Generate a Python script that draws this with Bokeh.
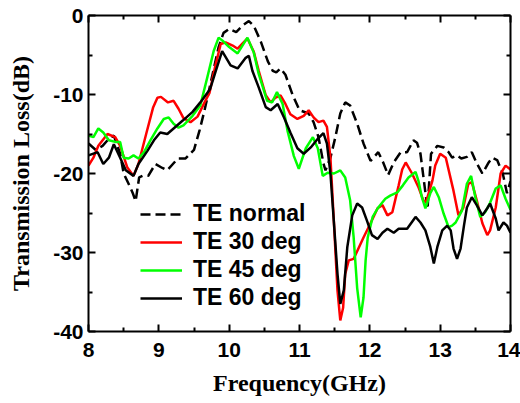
from bokeh.plotting import figure
from bokeh.models import (LinearAxis, Legend, LegendItem, FixedTicker,
                          CustomJSTickFormatter, Range1d)
from bokeh.embed import file_html
from bokeh.resources import INLINE

# ---------------- data ----------------
x_ticks = [8, 9, 10, 11, 12, 13, 14]
x_minor = [8.5, 9.5, 10.5, 11.5, 12.5, 13.5]
y_ticks = [-40, -30, -20, -10, 0]
y_minor = [-35, -25, -15, -5]

f_normal = [8.0, 8.1, 8.2, 8.3, 8.36, 8.45, 8.5, 8.57, 8.63, 8.67, 8.72, 8.77, 8.85, 8.95,
            9.05, 9.12, 9.2, 9.27, 9.38, 9.5, 9.58, 9.65, 9.75, 9.85, 9.92, 10.0, 10.1, 10.2,
            10.28, 10.35, 10.45, 10.55, 10.62, 10.67, 10.73, 10.8, 10.9, 11.0, 11.13, 11.2,
            11.27, 11.34, 11.37, 11.44, 11.51, 11.58, 11.65, 11.72, 11.82, 11.91, 12.01, 12.12,
            12.19, 12.26, 12.34, 12.44, 12.53, 12.62, 12.67, 12.72, 12.82, 12.87, 12.96, 13.05,
            13.12, 13.17, 13.24, 13.3, 13.38, 13.45, 13.52, 13.6, 13.69, 13.74, 13.81, 13.89,
            13.95, 14.0]
te_normal = [-16.2, -17.0, -16.5, -15.5, -15.2, -17.5, -20.0, -21.3, -22.5, -23.5, -20.5, -20.3,
             -20.3, -18.8, -19.3, -19.6, -18.8, -18.1, -18.1, -17.0, -14.5, -12.0, -8.0, -4.0,
             -2.2, -1.7, -2.1, -1.2, -0.7, -1.3, -3.3, -5.8, -7.0, -7.2, -6.7, -7.5, -10.0,
             -12.0, -12.4, -13.5, -15.4, -18.7, -19.6, -18.0, -15.4, -12.4, -11.0, -11.4, -13.7,
             -16.2, -18.4, -17.3, -18.6, -20.2, -18.6, -17.3, -17.3, -15.8, -16.1, -17.5, -24.5,
             -17.5, -16.5, -16.7, -17.3, -18.0, -17.7, -18.1, -17.9, -17.3, -18.7, -20.0, -18.6,
             -18.0, -18.3, -20.0, -22.5, -21.0]

f_30 = [8.0, 8.07, 8.14, 8.27, 8.38, 8.45, 8.55, 8.64, 8.71, 8.82, 8.92, 8.98, 9.03, 9.13,
        9.21, 9.28, 9.35, 9.45, 9.55, 9.65, 9.72, 9.8, 9.88, 9.95, 10.05, 10.12, 10.26, 10.35,
        10.42, 10.52, 10.59, 10.66, 10.73, 10.8, 10.87, 10.97, 11.06, 11.13, 11.2, 11.27,
        11.34, 11.39, 11.44, 11.49, 11.54, 11.58, 11.62, 11.65, 11.7, 11.77, 11.91, 12.01,
        12.11, 12.18, 12.25, 12.32, 12.41, 12.46, 12.51, 12.6, 12.69, 12.76, 12.8, 12.89,
        12.93, 13.0, 13.08, 13.19, 13.26, 13.33, 13.4, 13.45, 13.52, 13.6, 13.67, 13.71,
        13.79, 13.86, 13.93, 14.0]
te_30 = [-19.0, -18.0, -16.5, -15.0, -15.4, -16.5, -19.2, -20.3, -18.8, -15.0, -11.6, -10.4,
         -10.3, -11.0, -10.8, -11.8, -13.0, -13.5, -12.8, -11.0, -9.8, -6.5, -3.6, -3.4, -3.8,
         -4.2, -2.9, -4.6, -7.0, -10.1, -11.0, -10.4, -10.1, -11.2, -12.5, -13.1, -12.7,
         -12.0, -12.9, -13.5, -13.3, -14.1, -18.0, -26.3, -34.8, -38.6, -37.0, -32.7, -31.0,
         -30.8, -28.1, -26.3, -24.4, -24.0, -25.3, -24.9, -21.5, -19.5, -18.6, -20.0, -21.7,
         -23.4, -23.6, -20.9, -19.0, -17.5, -18.0, -22.2, -25.3, -24.3, -21.3, -21.1, -23.4,
         -26.3, -27.8, -27.2, -24.3, -20.0, -19.0, -19.5]

f_45 = [8.0, 8.07, 8.14, 8.21, 8.29, 8.38, 8.45, 8.5, 8.57, 8.64, 8.71, 8.79, 8.88, 8.98,
        9.07, 9.14, 9.21, 9.28, 9.35, 9.48, 9.59, 9.69, 9.78, 9.85, 9.92, 10.0, 10.12, 10.26,
        10.35, 10.42, 10.54, 10.61, 10.68, 10.76, 10.83, 10.92, 10.99, 11.09, 11.19, 11.26,
        11.33, 11.4, 11.49, 11.58, 11.65, 11.72, 11.77, 11.82, 11.87, 11.91, 11.94, 11.97,
        12.04, 12.12, 12.22, 12.29, 12.39, 12.47, 12.55, 12.65, 12.69, 12.74, 12.79, 12.86,
        12.91, 12.98, 13.05, 13.12, 13.17, 13.22, 13.31, 13.38, 13.44, 13.5, 13.57, 13.64,
        13.71, 13.79, 13.86, 13.93, 14.0]
te_45 = [-15.2, -15.4, -14.3, -14.8, -15.8, -16.0, -16.0, -18.0, -18.1, -17.7, -18.1, -17.3,
         -15.8, -14.3, -13.1, -12.9, -13.7, -14.2, -13.9, -12.7, -11.4, -7.8, -4.5, -2.8, -3.3,
         -4.0, -4.8, -2.8, -4.7, -7.4, -10.8, -11.0, -9.7, -11.2, -14.6, -17.8, -19.4, -16.8,
         -15.4, -16.8, -20.3, -19.9, -20.0, -19.6, -20.5, -23.4, -28.1, -34.5, -38.2, -35.7,
         -31.0, -28.1, -25.5, -24.3, -23.2, -22.8, -22.4, -21.5, -20.5, -19.8, -20.9, -23.0,
         -24.4, -22.5, -21.7, -23.0, -25.1, -26.8, -26.6, -26.2, -24.7, -21.3, -20.3, -23.0,
         -25.5, -24.9, -23.7, -21.9, -21.5, -23.2, -24.6]

f_60 = [8.0, 8.13, 8.21, 8.29, 8.36, 8.45, 8.53, 8.64, 8.71, 8.84, 8.93, 9.02, 9.12, 9.21,
        9.34, 9.48, 9.59, 9.73, 9.81, 9.9, 10.02, 10.12, 10.23, 10.28, 10.33, 10.42, 10.52,
        10.59, 10.69, 10.78, 10.87, 10.97, 11.06, 11.16, 11.26, 11.34, 11.39, 11.44, 11.49,
        11.54, 11.58, 11.63, 11.68, 11.75, 11.82, 11.89, 11.96, 12.03, 12.11, 12.18, 12.25,
        12.34, 12.41, 12.53, 12.65, 12.72, 12.79, 12.86, 12.91, 12.96, 13.03, 13.1, 13.15,
        13.19, 13.24, 13.29, 13.34, 13.38, 13.45, 13.52, 13.6, 13.67, 13.71, 13.79, 13.83,
        13.9, 13.95, 14.0]
te_60 = [-17.7, -17.3, -18.8, -18.0, -16.3, -18.0, -19.6, -20.3, -18.8, -17.1, -15.8, -14.8,
         -15.0, -14.3, -13.3, -12.2, -11.0, -9.3, -7.0, -4.5, -6.3, -6.7, -5.4, -5.1, -7.0,
         -9.1, -11.6, -12.0, -11.2, -12.9, -14.8, -16.8, -17.5, -16.7, -15.6, -14.9, -16.2,
         -20.0, -26.3, -32.7, -36.5, -34.8, -29.3, -25.3, -23.8, -24.3, -26.0, -27.8, -28.3,
         -27.5, -27.0, -27.5, -27.0, -27.0, -25.5, -26.2, -27.2, -29.3, -31.4, -29.3, -27.2,
         -26.6, -27.2, -29.5, -30.8, -29.5, -26.5, -24.3, -23.0, -24.0, -25.3, -24.4, -23.8,
         -25.7, -27.2, -26.2, -26.6, -27.5]

labels = ["TE normal", "TE 30 deg", "TE 45 deg", "TE 60 deg"]

for a, b in [(f_normal, te_normal), (f_30, te_30), (f_45, te_45), (f_60, te_60)]:
    assert len(a) == len(b), (len(a), len(b))

# ---------------- figure ----------------
p = figure(width=520, height=403, x_range=Range1d(8, 14), y_range=Range1d(-40, 0),
           output_backend="svg", toolbar_location=None,
           min_border_left=88, min_border_right=10, min_border_top=15, min_border_bottom=72)
p.xgrid.visible = False
p.ygrid.visible = False
p.outline_line_color = None
p.background_fill_color = "white"
p.border_fill_color = "white"

TICK_FONT = "Liberation Sans"
TITLE_FONT = "Liberation Serif"


def style_axis(ax, ticks, minor, show_labels=True):
    ax.ticker = FixedTicker(ticks=ticks, minor_ticks=minor)
    ax.axis_line_width = 2
    ax.axis_line_color = "black"
    ax.major_tick_line_width = 2
    ax.minor_tick_line_width = 2
    ax.major_tick_in = 7
    ax.major_tick_out = 0
    ax.minor_tick_in = 4
    ax.minor_tick_out = 0
    ax.major_label_text_font = TICK_FONT
    ax.major_label_text_font_style = "bold"
    ax.major_label_text_color = "black"
    if show_labels:
        ax.formatter = CustomJSTickFormatter(code="return tick.toFixed(0)")
        ax.major_label_text_font_size = "21px"
    else:
        ax.formatter = CustomJSTickFormatter(code="return ''")
        ax.major_label_text_font_size = "0px"
        ax.major_label_standoff = 0


style_axis(p.xaxis[0], x_ticks, x_minor)
style_axis(p.yaxis[0], y_ticks, y_minor)
p.xaxis[0].major_label_standoff = 11
p.yaxis[0].major_label_standoff = 5

p.xaxis[0].axis_label = "Frequency(GHz)"
p.yaxis[0].axis_label = "Transmission Loss(dB)"
for ax in (p.xaxis[0], p.yaxis[0]):
    ax.axis_label_text_font = TITLE_FONT
    ax.axis_label_text_font_style = "bold"
    ax.axis_label_text_font_size = "24px"
    ax.axis_label_text_color = "black"
p.xaxis[0].axis_label_standoff = 10
p.yaxis[0].axis_label_standoff = 16

top = LinearAxis()
right = LinearAxis()
style_axis(top, x_ticks, x_minor, show_labels=False)
style_axis(right, y_ticks, y_minor, show_labels=False)
p.add_layout(top, "above")
p.add_layout(right, "right")

LW = 2.5
r_n = p.line(f_normal, te_normal, line_color="black", line_width=LW, line_dash="10 5")
r_30 = p.line(f_30, te_30, line_color="#FF0000", line_width=LW)
r_45 = p.line(f_45, te_45, line_color="#00FF00", line_width=LW)
r_60 = p.line(f_60, te_60, line_color="black", line_width=LW)

legend = Legend(items=[LegendItem(label=labels[0], renderers=[r_n]),
                       LegendItem(label=labels[1], renderers=[r_30]),
                       LegendItem(label=labels[2], renderers=[r_45]),
                       LegendItem(label=labels[3], renderers=[r_60])],
                location=(52, 20))
legend.label_text_font = TICK_FONT
legend.label_text_font_style = "bold"
legend.label_text_font_size = "23px"
legend.label_text_color = "black"
legend.glyph_width = 42
legend.label_standoff = 11
legend.spacing = 1
legend.padding = 0
legend.margin = 0
legend.border_line_color = None
legend.background_fill_alpha = 0
p.add_layout(legend)

open("out.html", "w").write(file_html(p, INLINE))
